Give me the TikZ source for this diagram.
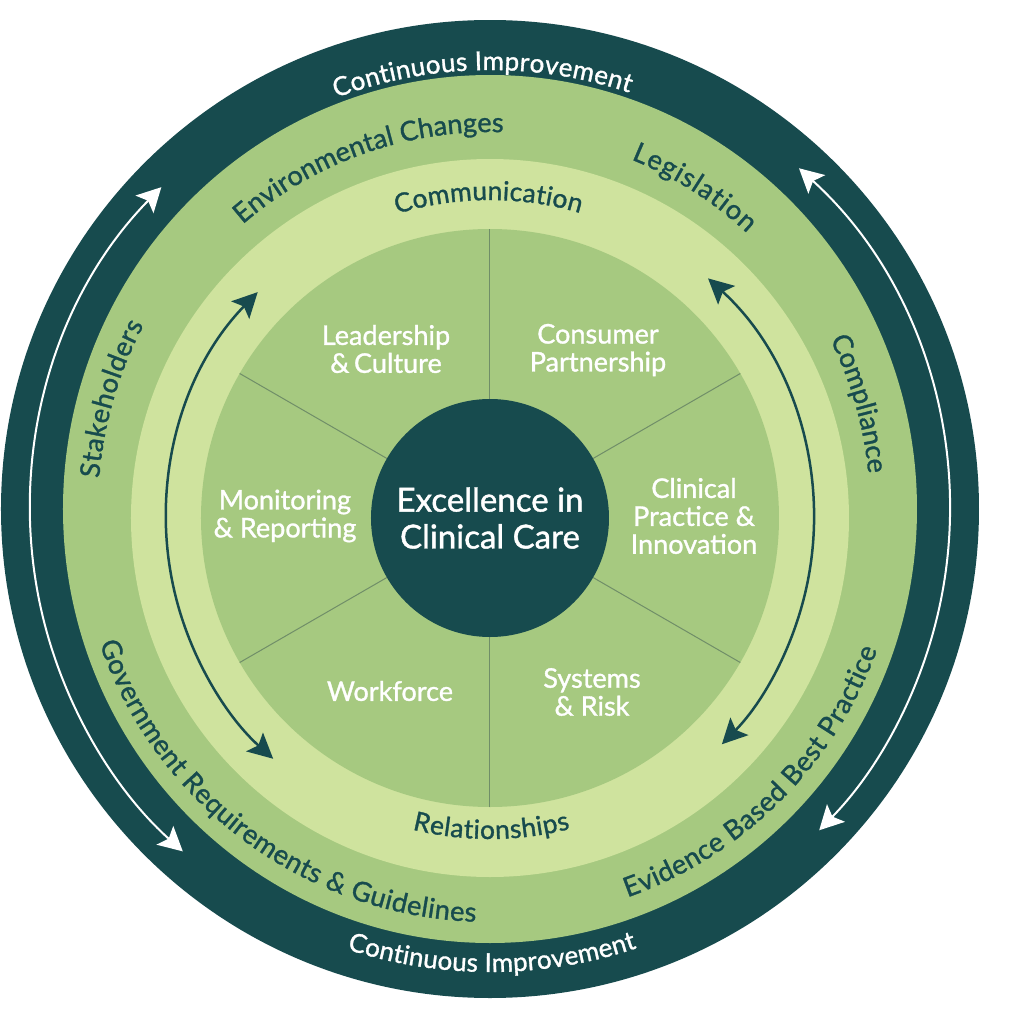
\documentclass[tikz,border=0pt]{standalone}
\usepackage{fontspec}
\setmainfont{Lato}[FakeBold=1.2]
\usepackage{xcolor}
\usepackage{tikz}
\usetikzlibrary{arrows.meta,decorations.text}
\definecolor{deepteal}{RGB}{23,75,78}
\definecolor{midgreen}{RGB}{166,201,128}
\definecolor{palegreen}{RGB}{207,227,158}
\definecolor{spokeline}{RGB}{112,142,104}
\newcommand\ringsize{\fontsize{15.5}{18}\selectfont}
\newcommand\outersize{\fontsize{14.8}{18}\selectfont}
\newcommand\bandsize{\fontsize{15}{17}\selectfont}
\tikzset{
  sector/.style={text=white, align=center, font=\fontsize{15.4}{15.9}\selectfont},
  core/.style={circle, fill=deepteal, minimum size=47.6mm, inner sep=0pt,
               text=white, align=center, font=\fontsize{18.8}{21}\selectfont},
  spoke/.style={draw=spokeline, line width=0.2mm},
  ringtext/.style={decorate, decoration={text along path, text align=fit to path}},
  whitearrow/.style={{Stealth[length=4.8mm, width=5mm, inset=1mm]}-{Stealth[length=4.8mm, width=5mm, inset=1mm]},
                     draw=white, line width=0.4mm},
  tealarrow/.style={{Stealth[length=5mm, width=5mm, inset=1mm]}-{Stealth[length=5mm, width=5mm, inset=1mm]},
                    draw=deepteal, line width=0.5mm},
}

\begin{document}
\begin{tikzpicture}[x=0.2mm, y=0.2mm]
  \useasboundingbox (-490,-515) rectangle (534,509);
  % outer rings
  \fill[deepteal] (0,0) circle[radius=489];
  \fill[midgreen] (0,0) ellipse[x radius=427, y radius=434];

  % inner rings, centre a little lower
  \begin{scope}[shift={(0,-9)}]
    \fill[palegreen] (0,0) circle[radius=359];
    \fill[midgreen] (0,0) circle[radius=289];
    \foreach \a in {30,90,...,330}
      \draw[spoke] (\a:119) -- (\a:289);
    \node[core] (core) at (0,0) {Excellence in\\Clinical Care};

    \node[sector] (LC)  at (-104,169) {Leadership\\\&\,Culture};
    \node[sector] (CP)  at (108,168)  {Consumer\\Partnership};
    \node[sector] (MR)  at (-205,2)   {Monitoring\\\& Reporting};
    \node[sector] (CPI) at (204,2)    {Clinical\\Practice \&\\Innovation};
    \node[sector] (WF)  at (-100,-173) {Workforce};
    \node[sector] (SR)  at (102,-174) {Systems\\\& Risk};

    \draw[tealarrow] (135.8:324) arc[start angle=135.8, end angle=228, radius=324];
    \draw[tealarrow] (47.7:324) arc[start angle=47.7, end angle=-44.3, radius=324];

    \path[ringtext, decoration={text={|\bandsize\color{deepteal}|Communication}}]
      (107:318) arc[start angle=107, end angle=73.5, radius=318];
    \path[ringtext, decoration={text={|\bandsize\color{deepteal}|Relationships}}]
      (256:321) arc[start angle=256, end angle=284.5, radius=321];
  \end{scope}

  % white arrows in the dark ring
  \draw[whitearrow] (135.6:460) arc[start angle=135.6, end angle=228.1, radius=460];
  \draw[whitearrow] (47.8:460) arc[start angle=47.8, end angle=-44.3, radius=460];

  % dark ring labels
  \path[ringtext, decoration={text={|\outersize\color{white}|Continuous Improvement}}]
    (110.5:439) arc[start angle=110.5, end angle=71.5, radius=439];
  \path[ringtext, decoration={text={|\outersize\color{white}|Continuous Improvement}}]
    (252:463) arc[start angle=252, end angle=288.5, radius=463];

  % middle ring labels
  \path[ringtext, decoration={text={|\ringsize\color{deepteal}|Environmental Changes}}]
    (131:377) arc[start angle=131, end angle=88.5, radius=377];
  \path[ringtext, decoration={text={|\ringsize\color{deepteal}|Legislation}}]
    (68:377) arc[start angle=68, end angle=47, radius=377];
  \path[ringtext, decoration={text={|\ringsize\color{deepteal}|Compliance}}]
    (26.5:380) arc[start angle=26.5, end angle=6, radius=380];
  \path[ringtext, decoration={text={|\ringsize\color{deepteal}|Stakeholders}}]
    (175.5:392) arc[start angle=175.5, end angle=152, radius=392];
  \path[ringtext, decoration={text={|\ringsize\color{deepteal}|Government Requirements {\&} Guidelines}}]
    (199:413) arc[start angle=199, end angle=268, radius=413];
  \path[ringtext, decoration={text={|\ringsize\color{deepteal}|Evidence Based Best Practice}}]
    (-70.5:412) arc[start angle=-70.5, end angle=-20, radius=412];
\end{tikzpicture}
\end{document}
